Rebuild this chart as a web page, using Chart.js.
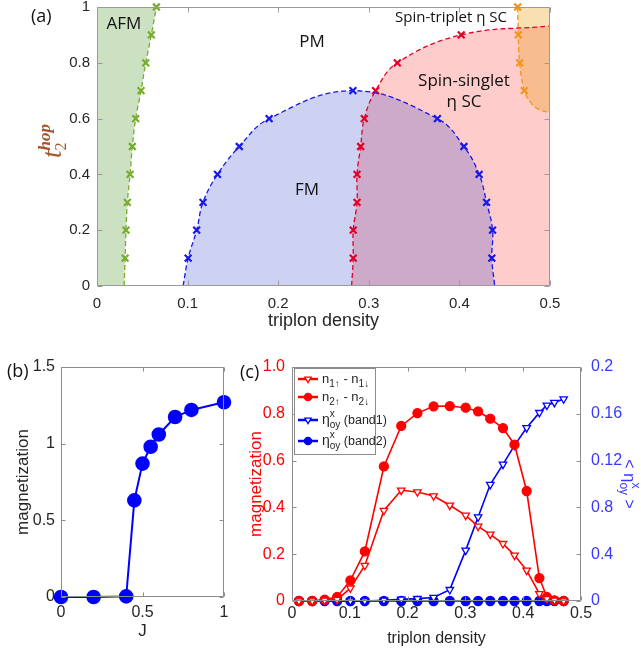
<!DOCTYPE html>
<html>
<head>
<meta charset="utf-8">
<script src="https://cdn.jsdelivr.net/npm/chart.js@4.4.1/dist/chart.umd.min.js"></script>
<style>
html,body{margin:0;padding:0;background:#fff;overflow:hidden;}
#wrap{position:relative;width:641px;height:654px;overflow:hidden;background:#fff;}
#wrap canvas{position:absolute;left:0;top:0;}
.lbl{position:absolute;white-space:nowrap;font-family:"Open Sans",sans-serif;color:#111;line-height:1;transform:translate(-50%,-50%);text-align:center;}
.plbl{position:absolute;white-space:nowrap;font-family:"Open Sans",sans-serif;color:#111;font-size:18px;line-height:1;transform:translateY(-50%);}
</style>
</head>
<body>
<div id="wrap">
  <canvas id="ca" width="641" height="654"></canvas>
  <canvas id="cb" width="641" height="654"></canvas>
  <canvas id="cc" width="641" height="654"></canvas>
  <div class="plbl" style="left:31px;top:15px;">(a)</div>
  <div class="plbl" style="left:7px;top:370px;">(b)</div>
  <div class="plbl" style="left:240px;top:371px;">(c)</div>
  <div class="lbl" style="left:124px;top:22px;font-size:17px;">AFM</div>
  <div class="lbl" style="left:312px;top:40px;font-size:17px;">PM</div>
  <div class="lbl" style="left:307px;top:188px;font-size:17px;">FM</div>
  <div class="lbl" style="left:451px;top:16px;font-size:15px;">Spin-triplet η SC</div>
  <div class="lbl" style="left:464px;top:90px;font-size:17px;line-height:21px;">Spin-singlet<br>η SC</div>
</div>
<script>
// ================= DATA =================
// ---- Panel (a): phase diagram, triplon density vs t2^hop ----
const aXTicks = [0, 0.1, 0.2, 0.3, 0.4, 0.5];
const aXTickLabels = ['0', '0.1', '0.2', '0.3', '0.4', '0.5'];
const aYTicks = [0, 0.2, 0.4, 0.6, 0.8, 1];
const aYTickLabels = ['0', '0.2', '0.4', '0.6', '0.8', '1'];

const afmDensity = [0.030, 0.031, 0.032, 0.0335, 0.0365, 0.039, 0.0427, 0.0486, 0.0538, 0.060, 0.0656];
const afmT2      = [0, 0.1, 0.2, 0.3, 0.4, 0.5, 0.6, 0.7, 0.8, 0.9, 1.0];

const fmDensity = [0.095, 0.1006, 0.110, 0.117, 0.133, 0.157, 0.190, 0.2825, 0.3757, 0.405, 0.4218, 0.430, 0.4366, 0.4358, 0.439];
const fmT2      = [0, 0.1, 0.2, 0.3, 0.4, 0.5, 0.6, 0.7, 0.6, 0.5, 0.4, 0.3, 0.2, 0.1, 0];

const singletDensity = [0.281, 0.2828, 0.2828, 0.287, 0.287, 0.291, 0.295, 0.3075, 0.3315, 0.402, 0.5];
const singletT2      = [0, 0.1, 0.2, 0.3, 0.4, 0.5, 0.6, 0.7, 0.8, 0.9, 0.932];

const tripletDensity = [0.4643, 0.465, 0.4665, 0.4716, 0.479, 0.486, 0.5];
const tripletT2      = [1.0, 0.9, 0.8, 0.7, 0.656, 0.636, 0.62];

// ---- Panel (b): magnetization vs J ----
const bXTicks = [0, 0.5, 1];
const bXTickLabels = ['0', '0.5', '1'];
const bYTicks = [0, 0.5, 1, 1.5];
const bYTickLabels = ['0', '0.5', '1', '1.5'];
const bJ = [0, 0.2, 0.4, 0.45, 0.5, 0.55, 0.6, 0.7, 0.8, 1.0];
const bMagnetization = [0, 0, 0.004, 0.63, 0.87, 0.98, 1.06, 1.174, 1.22, 1.27];

// ---- Panel (c): magnetization and eta vs triplon density ----
const cXTicks = [0, 0.1, 0.2, 0.3, 0.4, 0.5];
const cXTickLabels = ['0', '0.1', '0.2', '0.3', '0.4', '0.5'];
const cYTicks = [0, 0.2, 0.4, 0.6, 0.8, 1.0];
const cYTickLabels = ['0', '0.2', '0.4', '0.6', '0.8', '1.0'];
const cY2Ticks = [0, 0.04, 0.08, 0.12, 0.16, 0.2];
const cY2TickLabels = ['0', '0.4', '0.8', '0.12', '0.16', '0.2'];
const cDensity = [0.012, 0.035, 0.0565, 0.078, 0.101, 0.126, 0.159, 0.189, 0.217, 0.245, 0.273,
                  0.3005, 0.322, 0.343, 0.365, 0.385, 0.406, 0.428, 0.441, 0.454, 0.47];
const cN1 = [0, 0, 0.003, 0.006, 0.055, 0.152, 0.387, 0.473, 0.466, 0.449, 0.409,
             0.366, 0.319, 0.285, 0.245, 0.195, 0.131, 0.031, 0.01, 0.003, 0];
const cN2 = [0, 0, 0.006, 0.017, 0.088, 0.212, 0.575, 0.748, 0.803, 0.832, 0.833,
             0.826, 0.81, 0.779, 0.739, 0.668, 0.47, 0.098, 0.017, 0.003, 0];
const cEtaBand1 = [0, 0, 0, 0, 0, 0, 0.0006, 0.0014, 0.002, 0.003, 0.0097,
                   0.0433, 0.0718, 0.0995, 0.1168, 0.133, 0.148, 0.161, 0.1673, 0.1696, 0.1727];
const cEtaBand2 = [0, 0, 0, 0, 0, 0, 0, 0, 0, 0, 0,
                   0, 0, 0, 0, 0, 0, 0, 0, 0, 0];

// ================= HELPERS =================
Chart.defaults.font.family = '"Liberation Sans", Arial, sans-serif';
Chart.defaults.animation = false;
Chart.defaults.events = [];
Chart.defaults.plugins.legend.display = false;
Chart.defaults.plugins.tooltip.enabled = false;

const pts = (xs, ys) => xs.map((x, i) => ({x: x, y: ys[i]}));
const TICK = '#262626';

function fixSize(size) {
  return s => {
    if (s.isHorizontal()) s.height = size; else s.width = size;
    s.paddingTop = 0; s.paddingBottom = 0; s.paddingLeft = 0; s.paddingRight = 0;
  };
}
function axis(ticksArr, labels, size, extra) {
  const base = {
    type: 'linear',
    min: ticksArr[0],
    max: ticksArr[ticksArr.length - 1],
    grid: {display: false, drawTicks: false},
    border: {display: false},
    afterBuildTicks: s => { s.ticks = ticksArr.map(v => ({value: v})); },
    afterFit: fixSize(size),
    ticks: {autoSkip: false, maxRotation: 0, minRotation: 0, color: TICK,
            callback: (v, i) => labels[i]},
    title: {display: false}
  };
  const out = Object.assign({}, base, extra || {});
  out.ticks = Object.assign({}, base.ticks, (extra && extra.ticks) || {});
  return out;
}

function fontOf(r) {
  return (r.style || '') + ' ' + (r.weight || '') + ' ' + r.size + 'px ' + (r.family || '"Liberation Sans", Arial, sans-serif');
}
function drawRich(ctx, runs, x, y, opt) {
  ctx.save();
  ctx.translate(x, y);
  if (opt.rot) ctx.rotate(opt.rot);
  const pos = [];
  let lastStart = 0, maxEnd = 0;
  runs.forEach(r => {
    ctx.font = fontOf(r);
    const w = ctx.measureText(r.t).width;
    const start = r.stack ? lastStart : maxEnd;
    pos.push(start);
    lastStart = start;
    maxEnd = Math.max(maxEnd, start + w);
  });
  const x0 = opt.align === 'center' ? -maxEnd / 2 : 0;
  ctx.textBaseline = 'alphabetic';
  ctx.textAlign = 'left';
  ctx.fillStyle = opt.color;
  runs.forEach((r, i) => { ctx.font = fontOf(r); ctx.fillText(r.t, x0 + pos[i], r.dy || 0); });
  ctx.restore();
}

// frame + inward ticks on all four sides
const framePlugin = {
  id: 'frame',
  afterDraw(chart, args, o) {
    const {ctx, chartArea: a} = chart;
    const L = Math.round(a.left) + 0.5, R = Math.round(a.right) - 0.5;
    const T = Math.round(a.top) + 0.5, B = Math.round(a.bottom) - 0.5;
    const tl = o.tickLen || 5;
    ctx.save();
    ctx.strokeStyle = o.color || '#8c8c8c';
    ctx.lineWidth = 1;
    ctx.beginPath();
    ctx.rect(L, T, R - L, B - T);
    const xs = chart.scales.x;
    xs.ticks.forEach(t => {
      const p = Math.round(xs.getPixelForValue(t.value)) + 0.5;
      ctx.moveTo(p, B); ctx.lineTo(p, B - tl);
      ctx.moveTo(p, T); ctx.lineTo(p, T + tl);
    });
    const yl = chart.scales[o.left || 'y'], yr = chart.scales[o.right || 'y'];
    yl.ticks.forEach(t => {
      const p = Math.round(yl.getPixelForValue(t.value)) + 0.5;
      ctx.moveTo(L, p); ctx.lineTo(L + tl, p);
    });
    yr.ticks.forEach(t => {
      const p = Math.round(yr.getPixelForValue(t.value)) + 0.5;
      ctx.moveTo(R, p); ctx.lineTo(R - tl, p);
    });
    ctx.stroke();
    ctx.restore();
  }
};

// ================= PANEL (a) =================
const afmPts = pts(afmDensity, afmT2);
const fmPts = pts(fmDensity, fmT2);
const singletPts = pts(singletDensity, singletT2);
const tripletPts = pts(tripletDensity, tripletT2);
const xMin = aXTicks[0], xMax = aXTicks[aXTicks.length - 1];
const yMin = aYTicks[0], yMax = aYTicks[aYTicks.length - 1];
const last = arr => arr[arr.length - 1];

// closed region outlines: boundary + plot corners (joints duplicated so edges stay straight)
const afmRegion = [...afmPts, last(afmPts), {x: xMin, y: yMax}, {x: xMin, y: yMax}, {x: xMin, y: yMin}];
const singletRegion = [...singletPts, last(singletPts), {x: xMax, y: yMin}];
const tripletRegion = [...tripletPts, last(tripletPts), {x: xMax, y: yMax}];

const onGrid = y => y > 0 && Math.abs(y * 10 - Math.round(y * 10)) < 1e-6;
function boundary(data, color) {
  return {
    data: data, showLine: true, tension: 0.4, fill: false, clip: false,
    borderColor: color, borderWidth: 1.3, borderDash: [5, 3],
    pointStyle: 'crossRot', pointRadius: c => (onGrid(c.raw.y) ? 4.8 : 0),
    pointBorderColor: color, pointBackgroundColor: color, pointBorderWidth: 2.2
  };
}
function region(data, color) {
  return {
    data: data, showLine: true, tension: 0.4, fill: 'shape',
    backgroundColor: color, borderColor: 'rgba(0,0,0,0)', borderWidth: 0, pointRadius: 0
  };
}

const yTitlePlugin = {
  id: 'ytitleA',
  afterDraw(chart) {
    const col = 'rgb(165,85,40)';
    drawRich(chart.ctx, [
      {t: 't', size: 27, style: 'italic', family: '"Liberation Serif", serif'},
      {t: '2', size: 16, dy: 5, family: '"Liberation Serif", serif'},
      {t: 'hop', size: 17, style: 'italic', weight: 'bold', dy: -11, stack: true, family: '"Liberation Serif", serif'}
    ], 61, 141, {rot: -Math.PI / 2, align: 'center', color: col});
  }
};

new Chart(document.getElementById('ca'), {
  type: 'scatter',
  data: {
    datasets: [
      boundary(afmPts, 'rgb(119,172,48)'),
      boundary(fmPts, 'rgb(25,25,230)'),
      boundary(singletPts, 'rgb(225,0,40)'),
      boundary(tripletPts, 'rgb(240,150,30)'),
      region(tripletRegion, 'rgba(232,151,0,0.30)'),
      region(fmPts, 'rgba(5,30,190,0.20)'),
      region(singletRegion, 'rgba(255,0,0,0.20)'),
      region(afmRegion, 'rgba(100,165,70,0.33)')
    ]
  },
  options: {
    responsive: false,
    layout: {padding: {left: 0, right: 91, top: 5, bottom: 322}},
    plugins: {filler: {drawTime: 'beforeDatasetsDraw'}, frame: {tickLen: 5, color: '#9a9a9a'}},
    scales: {
      x: axis(aXTicks, aXTickLabels, 46, {
        ticks: {font: {size: 15}, padding: 9},
        title: {display: true, text: 'triplon density', color: TICK, font: {size: 18}, padding: {top: 0, bottom: 0}}
      }),
      y: axis(aYTicks, aYTickLabels, 97, {ticks: {font: {size: 15}, padding: 7}})
    }
  },
  plugins: [framePlugin, yTitlePlugin]
});

// ================= PANEL (b) =================
new Chart(document.getElementById('cb'), {
  type: 'scatter',
  data: {
    datasets: [{
      data: pts(bJ, bMagnetization), showLine: true, clip: false,
      borderColor: 'rgb(0,0,255)', borderWidth: 2,
      pointRadius: 6.3, pointBackgroundColor: 'rgb(0,0,255)', pointBorderColor: 'rgb(0,0,255)'
    }]
  },
  options: {
    responsive: false,
    layout: {padding: {left: 0, right: 417, top: 367, bottom: 12}},
    plugins: {frame: {tickLen: 4, color: '#8c8c8c'}},
    scales: {
      x: axis(bXTicks, bXTickLabels, 45, {
        ticks: {font: {size: 16}, padding: 6},
        title: {display: true, text: 'J', color: TICK, font: {size: 17}, padding: {top: 0, bottom: 0}}
      }),
      y: axis(bYTicks, bYTickLabels, 61, {
        ticks: {font: {size: 16}, padding: 6},
        title: {display: true, text: 'magnetization', color: TICK, font: {size: 17}, padding: {top: 13, bottom: 0}}
      })
    }
  },
  plugins: [framePlugin]
});

// ================= PANEL (c) =================
const RED = 'rgb(255,0,0)', BLUE = 'rgb(0,0,255)';
const cSeries = [
  {values: cN1, axis: 'y', color: RED, marker: 'triangle', open: true},
  {values: cN2, axis: 'y', color: RED, marker: 'circle', open: false},
  {values: cEtaBand1, axis: 'y2', color: BLUE, marker: 'triangle', open: true},
  {values: cEtaBand2, axis: 'y2', color: BLUE, marker: 'circle', open: false}
];
const cLegendRuns = [
  [{t: 'n', size: 13}, {t: '1↑', size: 10, dy: 4}, {t: ' - n', size: 13}, {t: '1↓', size: 10, dy: 4}],
  [{t: 'n', size: 13}, {t: '2↑', size: 10, dy: 4}, {t: ' - n', size: 13}, {t: '2↓', size: 10, dy: 4}],
  [{t: 'η', size: 14}, {t: 'x', size: 10, dy: -7}, {t: 'oy', size: 10, dy: 4, stack: true}, {t: ' (band1)', size: 12.5}],
  [{t: 'η', size: 14}, {t: 'x', size: 10, dy: -7}, {t: 'oy', size: 10, dy: 4, stack: true}, {t: ' (band2)', size: 12.5}]
];

const legendPlugin = {
  id: 'legendC',
  afterDraw(chart) {
    const ctx = chart.ctx;
    const bx = 294.5, by = 368.5, bw = 81, bh = 86;
    ctx.save();
    ctx.fillStyle = '#fff';
    ctx.fillRect(bx, by, bw, bh);
    ctx.strokeStyle = '#8c8c8c';
    ctx.lineWidth = 1;
    ctx.strokeRect(bx, by, bw, bh);
    const rows = [379, 397, 420, 441];
    chart.data.datasets.forEach((ds, i) => {
      const y = rows[i];
      ctx.strokeStyle = ds.borderColor;
      ctx.lineWidth = 2.5;
      ctx.beginPath(); ctx.moveTo(298, y); ctx.lineTo(318, y); ctx.stroke();
      ctx.fillStyle = ds.pointBackgroundColor;
      ctx.strokeStyle = ds.pointBorderColor;
      ctx.lineWidth = 1.3;
      Chart.helpers.drawPoint(ctx, {pointStyle: ds.pointStyle, rotation: ds.pointRotation || 0,
        radius: 3.6, borderWidth: 1.3}, 308, y);
      drawRich(ctx, cLegendRuns[i], 322, y + 4, {color: '#262626'});
    });
    ctx.restore();
    // right-axis title
    drawRich(ctx, [
      {t: '< ', size: 16},
      {t: 'η', size: 17},
      {t: 'x', size: 12, dy: -8},
      {t: 'oy', size: 12, dy: 4, stack: true},
      {t: ' >', size: 16}
    ], 624, 484, {rot: Math.PI / 2, align: 'center', color: 'rgb(55,55,255)'});
  }
};

new Chart(document.getElementById('cc'), {
  type: 'scatter',
  data: {
    datasets: cSeries.map(s => ({
      data: pts(cDensity, s.values), yAxisID: s.axis, showLine: true, clip: false,
      borderColor: s.color, borderWidth: 1.6,
      pointStyle: s.marker, pointRotation: s.marker === 'triangle' ? 180 : 0,
      pointRadius: s.marker === 'triangle' ? 4.3 : 4.5,
      pointBorderWidth: 1.3,
      pointBorderColor: s.color,
      pointBackgroundColor: s.open ? '#ffffff' : s.color
    }))
  },
  options: {
    responsive: false,
    layout: {padding: {left: 240, right: 0, top: 367, bottom: 6}},
    plugins: {frame: {tickLen: 4, color: '#8c8c8c', left: 'y', right: 'y2'}},
    scales: {
      x: axis(cXTicks, cXTickLabels, 47, {
        ticks: {font: {size: 16}, padding: 3},
        title: {display: true, text: 'triplon density', color: TICK, font: {size: 16}, padding: {top: 0, bottom: 0}}
      }),
      y: axis(cYTicks, cYTickLabels, 52, {
        position: 'left',
        ticks: {font: {size: 16}, padding: 7, color: RED},
        title: {display: true, text: 'magnetization', color: RED, font: {size: 17}, padding: {top: 6, bottom: 0}}
      }),
      y2: axis(cY2Ticks, cY2TickLabels, 60, {
        position: 'right',
        ticks: {font: {size: 16}, padding: 10, color: 'rgb(55,55,255)'}
      })
    }
  },
  plugins: [framePlugin, legendPlugin]
});
</script>
</body>
</html>
